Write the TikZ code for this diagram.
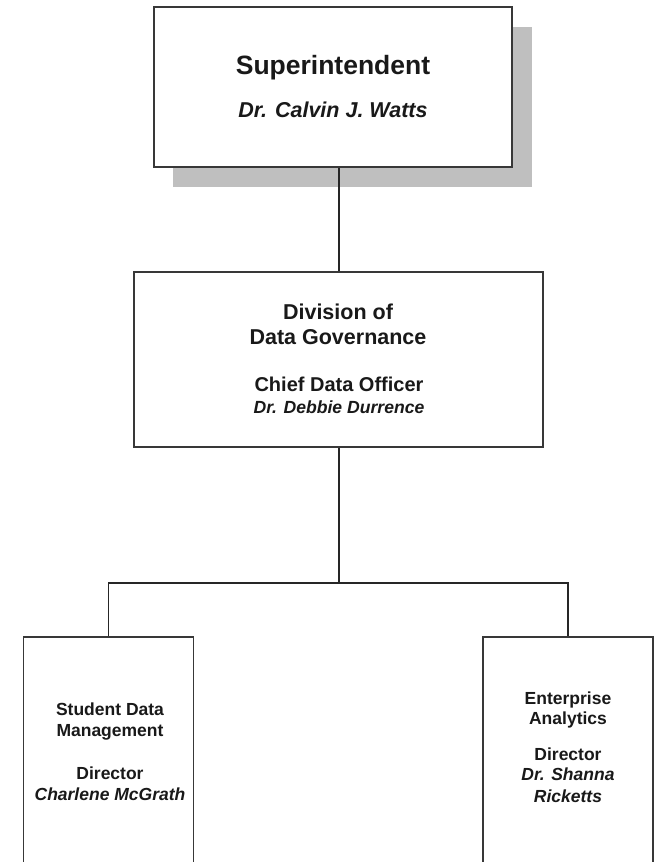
\documentclass[tikz,border=0pt]{standalone}
\usepackage{fontspec}
\setmainfont{Liberation Sans}
\tikzset{
  box/.style={draw=black!78, line width=1.4pt, fill=white, rectangle, inner sep=0pt},
  shadowbox/.style={fill=gray!50, draw=none, rectangle, inner sep=0pt},
  conn/.style={draw=black!85, line width=1.5pt},
  txt/.style={inner sep=0pt, anchor=base, text=black!90},
  fa/.style={font=\fontsize{26.5}{30}\selectfont\bfseries},
  fb/.style={font=\fontsize{21.5}{25}\selectfont\bfseries\itshape},
  fc/.style={font=\fontsize{21.5}{25}\selectfont\bfseries},
  fd/.style={font=\fontsize{20}{24}\selectfont\bfseries},
  fe/.style={font=\fontsize{17.6}{21}\selectfont\bfseries\itshape},
  ff/.style={font=\fontsize{17.5}{21}\selectfont\bfseries},
  fg/.style={font=\fontsize{17.5}{21}\selectfont\bfseries\itshape},
}
\begin{document}
\begin{tikzpicture}[x=1pt,y=-1pt]
\useasboundingbox (0,0) rectangle (654,862);
\clip (0,0) rectangle (654,862);
\fill[white] (0,0) rectangle (654,862);
% top box with shadow
\node[shadowbox, minimum width=359pt, minimum height=160pt] (supsh) at (352.5,107) {};
\node[box, minimum width=358pt, minimum height=160pt] (sup) at (333,87) {};
\node[txt, fa] (supt) at (333,74) {Superintendent};
\node[txt, fb] (supn) at (333,117) {Dr. Calvin J. Watts};
% middle box
\node[box, minimum width=409pt, minimum height=175pt] (div) at (338.5,359.5) {};
\node[txt, fc] (divt1) at (338,319) {Division of};
\node[txt, fc] (divt2) at (338,344) {Data Governance};
\node[txt, fd] (divt3) at (339,391) {Chief Data Officer};
\node[txt, fe] (divt4) at (339,413) {Dr. Debbie Durrence};
% bottom boxes
\node[box, minimum width=170pt, minimum height=260pt] (sdm) at (108.5,767) {};
\node[txt, ff] (sdm1) at (110,715) {Student Data};
\node[txt, ff] (sdm2) at (110,736.5) {Management};
\node[txt, ff] (sdm3) at (110,779) {Director};
\node[txt, fg] (sdm4) at (110,800) {Charlene McGrath};
\node[box, minimum width=170pt, minimum height=260pt] (ea) at (568,767) {};
\node[txt, ff] (ea1) at (568,704) {Enterprise};
\node[txt, ff] (ea2) at (568,724) {Analytics};
\node[txt, ff] (ea3) at (568,760) {Director};
\node[txt, fg] (ea4) at (568,780) {Dr. Shanna};
\node[txt, fg] (ea5) at (568,802) {Ricketts};
% connectors
\coordinate (j) at (339,583);
\draw[conn] (div.north -| j) -- (sup.south -| j);
\draw[conn] (div.south -| j) -- (j);
\draw[conn] (sdm.north) |- (j) -| (ea.north);
\end{tikzpicture}
\end{document}
